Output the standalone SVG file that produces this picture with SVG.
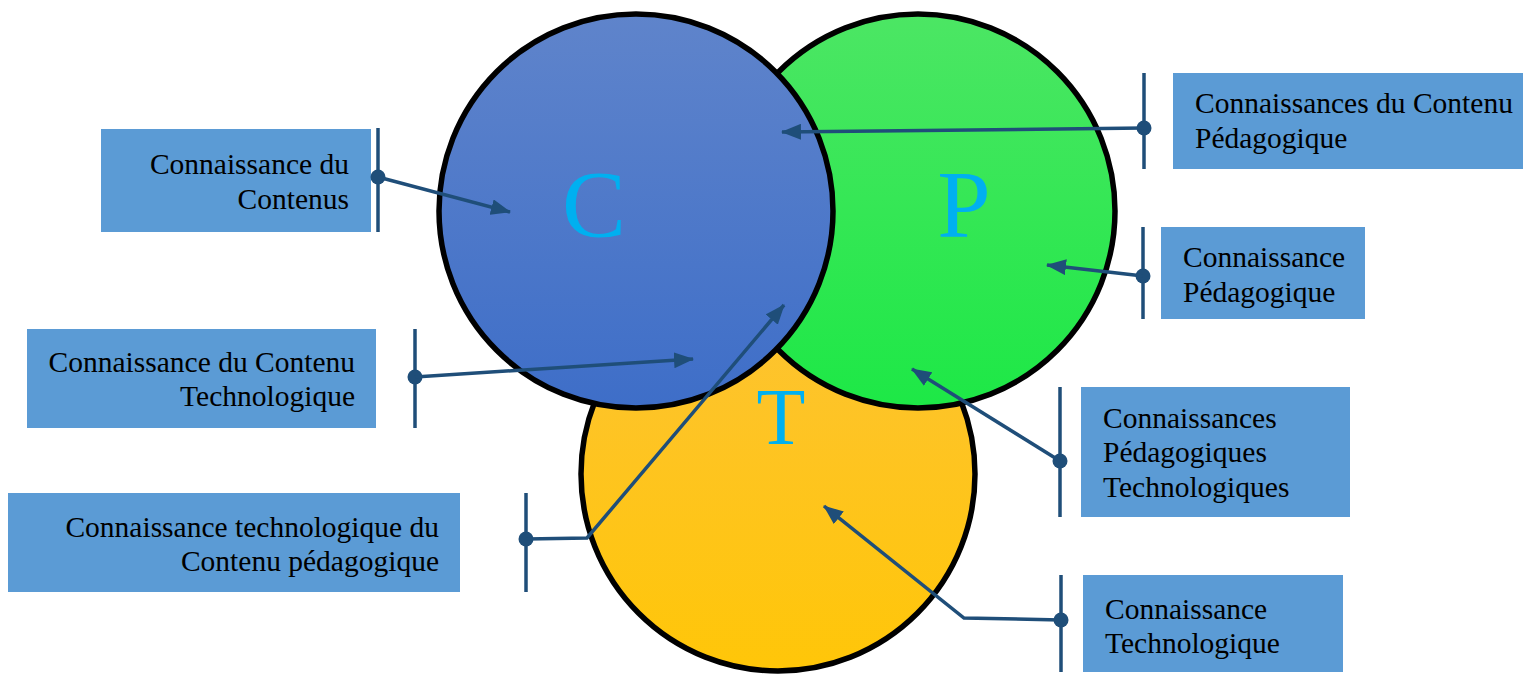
<svg xmlns="http://www.w3.org/2000/svg" width="1523" height="674" viewBox="0 0 1523 674">
<defs>
<linearGradient id="gC" x1="0" y1="0" x2="0" y2="1"><stop offset="0" stop-color="#5f84cb"/><stop offset="1" stop-color="#3e6ec8"/></linearGradient>
<linearGradient id="gP" x1="0" y1="0" x2="0" y2="1"><stop offset="0" stop-color="#4ce664"/><stop offset="1" stop-color="#1de846"/></linearGradient>
<linearGradient id="gT" x1="0" y1="0" x2="0" y2="1"><stop offset="0" stop-color="#fdc335"/><stop offset="1" stop-color="#ffc608"/></linearGradient>
<marker id="ah" markerUnits="userSpaceOnUse" markerWidth="22" markerHeight="16" refX="19" refY="8" orient="auto"><path d="M0,0 L20,8 L0,16 Z" fill="#1f4e79"/></marker>
<style>
.circ{stroke:#000;stroke-width:5.5}
.big{font-family:"Liberation Serif","Times New Roman",serif;fill:#00b0f0}
.box{fill:#5b9bd5}
.lbl{font-family:"Liberation Serif","Times New Roman",serif;font-size:29.5px;fill:#000}
.r{text-anchor:end}
.conn{stroke:#1f4e79;stroke-width:3.5;fill:none}
.arr{stroke:#1f4e79;stroke-width:3.5;fill:none;marker-end:url(#ah)}
.dot{fill:#1f4e79}
</style>
</defs>
<g id="circleT"><circle class="circ" cx="778" cy="474" r="197" fill="url(#gT)"/></g>
<g id="circleP"><circle class="circ" cx="918" cy="211" r="197" fill="url(#gP)"/></g>
<g id="circleC"><circle class="circ" cx="636" cy="211" r="197" fill="url(#gC)"/></g>
<g id="letters">
<text class="big" x="594" y="237" font-size="96" text-anchor="middle">C</text>
<text class="big" x="964" y="237" font-size="96" text-anchor="middle">P</text>
<text class="big" x="781" y="444" font-size="80" text-anchor="middle">T</text>
</g>
<g id="box1"><rect class="box" x="101" y="129" width="270" height="103"/>
<text class="lbl r" x="349" y="174">Connaissance du</text><text class="lbl r" x="349" y="209">Contenus</text></g>
<g id="box2"><rect class="box" x="1173" y="73" width="350" height="96"/>
<text class="lbl" x="1195" y="113">Connaissances du Contenu</text><text class="lbl" x="1195" y="148">Pédagogique</text></g>
<g id="box3"><rect class="box" x="1161" y="227" width="204" height="92"/>
<text class="lbl" x="1183" y="267">Connaissance</text><text class="lbl" x="1183" y="302">Pédagogique</text></g>
<g id="box4"><rect class="box" x="27" y="329" width="349" height="99"/>
<text class="lbl r" x="355" y="372">Connaissance du Contenu</text><text class="lbl r" x="355" y="406">Technologique</text></g>
<g id="box5"><rect class="box" x="1081" y="387" width="269" height="130"/>
<text class="lbl" x="1103" y="428">Connaissances</text><text class="lbl" x="1103" y="462">Pédagogiques</text><text class="lbl" x="1103" y="497">Technologiques</text></g>
<g id="box6"><rect class="box" x="8" y="493" width="452" height="99"/>
<text class="lbl r" x="439" y="537">Connaissance technologique du</text><text class="lbl r" x="439" y="571">Contenu pédagogique</text></g>
<g id="box7"><rect class="box" x="1083" y="575" width="260" height="97"/>
<text class="lbl" x="1105" y="619">Connaissance</text><text class="lbl" x="1105" y="653">Technologique</text></g>
<g id="connectors">
<line class="conn" x1="378" y1="128" x2="378" y2="232"/><circle class="dot" cx="378" cy="177" r="7.5"/>
<line class="arr" x1="378" y1="177" x2="510" y2="212"/>
<line class="conn" x1="1144" y1="73" x2="1144" y2="169"/><circle class="dot" cx="1144" cy="128" r="7.5"/>
<line class="arr" x1="1144" y1="128" x2="782" y2="132"/>
<line class="conn" x1="1143" y1="227" x2="1143" y2="319"/><circle class="dot" cx="1143" cy="276" r="7.5"/>
<line class="arr" x1="1143" y1="276" x2="1047" y2="265"/>
<line class="conn" x1="415" y1="329" x2="415" y2="428"/><circle class="dot" cx="415" cy="377" r="7.5"/>
<line class="arr" x1="415" y1="377" x2="693" y2="359"/>
<line class="conn" x1="1060" y1="387" x2="1060" y2="517"/><circle class="dot" cx="1060" cy="461" r="7.5"/>
<line class="arr" x1="1060" y1="461" x2="912" y2="369"/>
<line class="conn" x1="526" y1="493" x2="526" y2="592"/><circle class="dot" cx="526" cy="539" r="7.5"/>
<polyline class="arr" points="526,539 587,538 784,305"/>
<line class="conn" x1="1061" y1="575" x2="1061" y2="672"/><circle class="dot" cx="1061" cy="620" r="7.5"/>
<polyline class="arr" points="1061,620 964,618 824,506"/>
</g>
</svg>
